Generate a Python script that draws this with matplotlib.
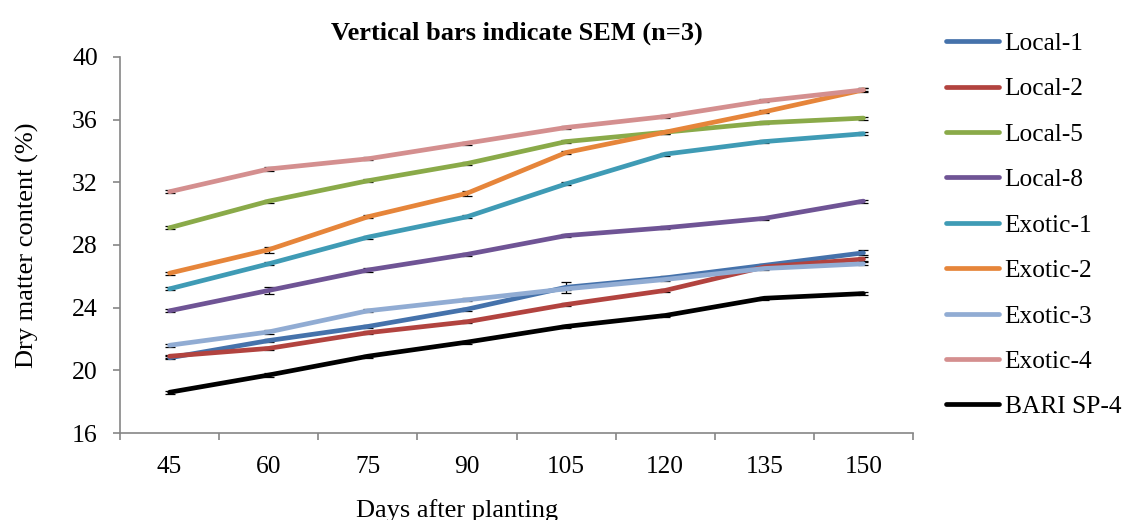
import matplotlib.pyplot as plt
import numpy as np

# data
days = ["45", "60", "75", "90", "105", "120", "135", "150"]

local1 = [20.8, 21.9, 22.8, 23.9, 25.3, 25.9, 26.7, 27.5]
local2 = [20.9, 21.4, 22.4, 23.1, 24.2, 25.1, 26.6, 27.1]
local5 = [29.1, 30.8, 32.1, 33.2, 34.6, 35.2, 35.8, 36.1]
local8 = [23.8, 25.1, 26.4, 27.4, 28.6, 29.1, 29.7, 30.8]
exotic1 = [25.2, 26.8, 28.5, 29.8, 31.9, 33.8, 34.6, 35.1]
exotic2 = [26.2, 27.7, 29.8, 31.3, 33.9, 35.2, 36.5, 37.9]
exotic3 = [21.6, 22.45, 23.8, 24.5, 25.2, 25.8, 26.5, 26.8]
exotic4 = [31.4, 32.85, 33.5, 34.5, 35.5, 36.2, 37.2, 37.9]
barisp4 = [18.6, 19.7, 20.9, 21.8, 22.8, 23.5, 24.6, 24.9]

# SEM (estimated)
sem_local1 = [0.1, 0.1, 0.1, 0.1, 0.35, 0.1, 0.1, 0.15]
sem_local2 = [0.1, 0.1, 0.1, 0.1, 0.1, 0.1, 0.15, 0.15]
sem_local5 = [0.1, 0.1, 0.1, 0.1, 0.1, 0.1, 0.1, 0.1]
sem_local8 = [0.1, 0.2, 0.1, 0.1, 0.1, 0.1, 0.1, 0.1]
sem_exotic1 = [0.1, 0.1, 0.1, 0.1, 0.1, 0.1, 0.1, 0.1]
sem_exotic2 = [0.1, 0.2, 0.1, 0.15, 0.1, 0.1, 0.1, 0.1]
sem_exotic3 = [0.1, 0.1, 0.1, 0.1, 0.1, 0.1, 0.1, 0.1]
sem_exotic4 = [0.1, 0.1, 0.1, 0.1, 0.1, 0.1, 0.1, 0.15]
sem_barisp4 = [0.1, 0.1, 0.1, 0.1, 0.1, 0.1, 0.1, 0.1]

names = ["Local-1", "Local-2", "Local-5", "Local-8", "Exotic-1",
         "Exotic-2", "Exotic-3", "Exotic-4", "BARI SP-4"]
series = [local1, local2, local5, local8, exotic1, exotic2, exotic3, exotic4, barisp4]
sems = [sem_local1, sem_local2, sem_local5, sem_local8, sem_exotic1,
        sem_exotic2, sem_exotic3, sem_exotic4, sem_barisp4]
colors = ["#4572ab", "#b2433f", "#8aaa49", "#6f5495", "#3f9bb5",
          "#e6853a", "#91acd3", "#d48f8f", "#000000"]

plt.rcParams['font.family'] = ['Liberation Serif', 'DejaVu Serif']

fig = plt.figure(figsize=(11.28, 5.2), dpi=100)
ax = fig.add_axes([0.1064, 0.1673, 0.703, 0.7231])

x = np.arange(len(days)) + 0.5
for name, vals, err, col in zip(names, series, sems, colors):
    ax.errorbar(x, vals, yerr=err, fmt='none', ecolor='black', elinewidth=0.9,
                capsize=3.5, capthick=0.9, zorder=2)
    ax.plot(x, vals, color=col, lw=3.4, label=name, zorder=3, solid_capstyle='round')

ax.set_xlim(0, len(days))
ax.set_ylim(16, 40)
ax.set_yticks(np.arange(16, 41, 4))
ax.set_xticks(np.arange(0, len(days) + 1))
ax.set_xticklabels([])
ax.set_xticks(x, minor=True)
ax.set_xticklabels(days, minor=True)
ax.tick_params(axis='x', which='minor', length=0, pad=16.5, labelsize=18.3)
ax.tick_params(axis='x', which='major', length=5, width=1.2, color='#868686')
ax.tick_params(axis='y', length=5, width=1.2, color='#868686', labelsize=18.5, pad=11)

for s in ['top', 'right']:
    ax.spines[s].set_visible(False)
for s in ['left', 'bottom']:
    ax.spines[s].set_color('#868686')
    ax.spines[s].set_linewidth(1.2)

ax.set_xlabel('Days after planting', fontsize=19)
ax.xaxis.set_label_coords(0.4256, -0.176)
ax.set_ylabel('Dry matter content (%)', fontsize=19, labelpad=24)
ax.set_title('Vertical bars indicate SEM (n=3)', fontsize=19, fontweight='bold', pad=12.5)

fig.legend(loc='upper left', bbox_to_anchor=(0.818, 0.982), frameon=False,
           fontsize=18.3, handlelength=2.1, handletextpad=0.22, labelspacing=0.89)

fig.savefig('out.png', dpi=100)
